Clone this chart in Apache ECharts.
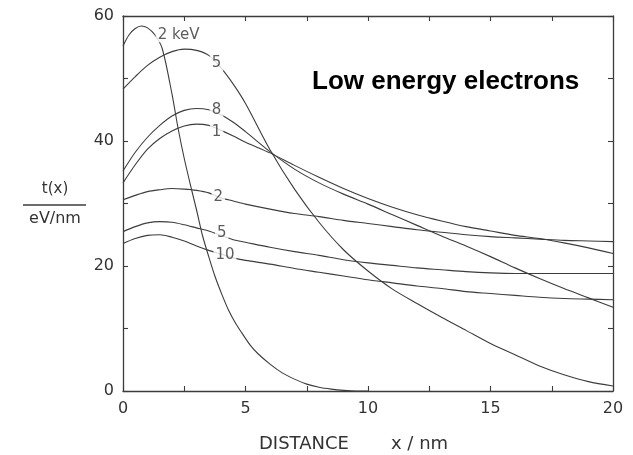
<!DOCTYPE html>
<html>
<head>
<meta charset="utf-8">
<title>Low energy electrons</title>
<script src="https://cdn.jsdelivr.net/npm/echarts@6.0.0/dist/echarts.min.js"></script>
<style>
  html, body { margin: 0; padding: 0; background: #fff; }
  #chart { width: 633px; height: 455px; }
</style>
</head>
<body>
<div id="chart"></div>
<script>
// Depth (nm) sampling shared by the broader curves
const xDepth = [0, 0.5, 1, 1.5, 2, 2.5, 3, 3.5, 4, 4.5, 5, 6, 7, 8, 9, 10, 11, 12, 13, 14, 15, 16, 17, 18, 19, 20];

// 2 keV curve has its own, finer depth sampling
const x2keV = [0, 0.25, 0.5, 0.75, 1, 1.3, 1.6, 2, 2.25, 2.5, 2.8, 3, 3.25, 3.5, 3.75, 4, 4.3, 4.6, 4.85, 5.2, 5.5, 6, 6.5, 7, 7.5, 8, 8.5, 9, 9.5, 10];
const y2keV = [55.2, 57.0, 58.0, 58.4, 58.1, 57.0, 54.8, 47.5, 42.0, 37.2, 32.2, 29.0, 24.8, 21.5, 18.4, 15.8, 13.0, 10.8, 9.3, 7.3, 6.0, 4.3, 2.9, 1.9, 1.1, 0.6, 0.3, 0.1, 0, 0];

// Energy-loss profiles t(x) in eV/nm on xDepth
const y5keV  = [48.3, 50.3, 52.1, 53.4, 54.3, 54.7, 54.5, 53.7, 51.7, 49.1, 46.0, 38.6, 32.3, 27.0, 22.6, 19.2, 16.3, 14.0, 11.8, 9.7, 7.6, 5.8, 4.0, 2.6, 1.5, 0.8];
const y8     = [35.2, 38.2, 40.6, 42.5, 44.0, 44.9, 45.2, 45.0, 44.2, 43.0, 41.5, 38.3, 35.5, 33.3, 31.5, 29.9, 28.2, 26.5, 24.8, 23.2, 21.5, 19.7, 18.0, 16.4, 14.9, 13.4];
const y1     = [33.3, 36.2, 38.7, 40.4, 41.6, 42.4, 42.7, 42.5, 41.7, 40.8, 39.8, 38.1, 36.1, 34.2, 32.4, 30.8, 29.4, 28.2, 27.2, 26.3, 25.6, 24.9, 24.4, 23.7, 22.9, 22.0];
const y2     = [30.6, 31.3, 31.9, 32.2, 32.4, 32.3, 32.1, 31.7, 30.9, 30.4, 29.9, 29.1, 28.4, 27.9, 27.3, 26.8, 26.3, 25.8, 25.4, 25.0, 24.7, 24.5, 24.3, 24.1, 24.0, 23.9];
const y5     = [25.5, 26.3, 26.9, 27.1, 27.0, 26.6, 26.1, 25.6, 24.9, 24.2, 23.8, 23.0, 22.3, 21.7, 21.0, 20.5, 20.1, 19.7, 19.4, 19.1, 18.9, 18.8, 18.8, 18.8, 18.8, 18.8];
const y10    = [23.6, 24.4, 24.9, 25.0, 24.6, 24.0, 23.2, 22.5, 21.9, 21.3, 20.9, 20.3, 19.6, 19.0, 18.4, 17.8, 17.3, 16.8, 16.4, 15.9, 15.6, 15.3, 15.0, 14.8, 14.7, 14.6];

// In-plot curve labels (centre position in data units)
const curveLabels = ['2 keV', '5', '8', '1', '2', '5', '10'];
const curveLabelX = [2.27, 3.82, 3.82, 3.82, 3.89, 4.03, 4.16];
const curveLabelY = [57.0, 52.4, 45.0, 41.5, 31.1, 25.2, 21.8];

// Axis ranges and tick steps
const xMin = 0, xMax = 20, xStep = 5;
const yMin = 0, yMax = 60, yStep = 20;

const INK = '#3c3c3c';
const FONT = '"DejaVu Sans", sans-serif';

function pairs(xs, ys) { return xs.map((x, i) => [x, ys[i]]); }

const curves = [
  pairs(x2keV, y2keV),
  pairs(xDepth, y5keV),
  pairs(xDepth, y8),
  pairs(xDepth, y1),
  pairs(xDepth, y2),
  pairs(xDepth, y5),
  pairs(xDepth, y10)
];

const lineSeries = curves.map(d => ({
  type: 'line',
  data: d,
  showSymbol: false,
  smooth: 0.3,
  lineStyle: { color: INK, width: 1.1 },
  silent: true,
  z: 2
}));

// Curve labels sit on a white patch so the curve breaks around them
const labelSeries = {
  type: 'scatter',
  symbolSize: 0,
  silent: true,
  z: 5,
  data: curveLabels.map((t, i) => ({ value: [curveLabelX[i], curveLabelY[i]], name: t })),
  label: {
    show: true,
    position: 'inside',
    formatter: p => p.name,
    fontFamily: FONT,
    fontSize: 15,
    color: '#333',
    backgroundColor: '#fff',
    padding: [0, 2]
  }
};

const tickStyle = { color: INK, width: 1.1 };
function axisBase(extra) {
  return Object.assign({
    type: 'value',
    axisLine: { show: true, onZero: false, lineStyle: { color: INK, width: 1.3 } },
    axisTick: { show: true, inside: true, length: 5, lineStyle: tickStyle },
    minorTick: { show: true, splitNumber: 2, length: 5, lineStyle: tickStyle },
    splitLine: { show: false },
    minorSplitLine: { show: false }
  }, extra);
}
const tickLabel = { fontFamily: FONT, fontSize: 16, color: '#333' };

const option = {
  animation: false,
  backgroundColor: '#fff',
  grid: { left: 123, right: 20, top: 16, bottom: 64 },
  xAxis: [
    axisBase({ min: xMin, max: xMax, interval: xStep, position: 'bottom',
      axisLabel: Object.assign({ margin: 10 }, tickLabel) }),
    axisBase({ min: xMin, max: xMax, interval: xStep, position: 'top',
      axisLabel: { show: false } })
  ],
  yAxis: [
    axisBase({ min: yMin, max: yMax, interval: yStep, position: 'left',
      axisLabel: Object.assign({ margin: 9 }, tickLabel) }),
    axisBase({ min: yMin, max: yMax, interval: yStep, position: 'right',
      axisLabel: { show: false } })
  ],
  graphic: [
    { type: 'text', x: 55, y: 189, silent: true,
      style: { text: 't(x)', font: '15px ' + FONT, fill: '#333', align: 'center', verticalAlign: 'middle' } },
    { type: 'line', silent: true, shape: { x1: 23, y1: 205, x2: 86, y2: 205 },
      style: { stroke: INK, lineWidth: 1.3 } },
    { type: 'text', x: 55, y: 219, silent: true,
      style: { text: 'eV/nm', font: '16px ' + FONT, fill: '#333', align: 'center', verticalAlign: 'middle' } },
    { type: 'text', x: 259, y: 444, silent: true,
      style: { text: 'DISTANCE', font: '18px ' + FONT, fill: '#333', align: 'left', verticalAlign: 'middle' } },
    { type: 'text', x: 391, y: 444, silent: true,
      style: { text: 'x / nm', font: '18px ' + FONT, fill: '#333', align: 'left', verticalAlign: 'middle' } },
    { type: 'text', x: 312, y: 82, silent: true,
      style: { text: 'Low energy electrons', font: 'bold 26px "Liberation Sans", Arial, sans-serif', fill: '#000', align: 'left', verticalAlign: 'middle' } }
  ],
  series: lineSeries.concat([labelSeries])
};

const chart = echarts.init(document.getElementById('chart'), null, { renderer: 'canvas' });
chart.setOption(option);
</script>
</body>
</html>
